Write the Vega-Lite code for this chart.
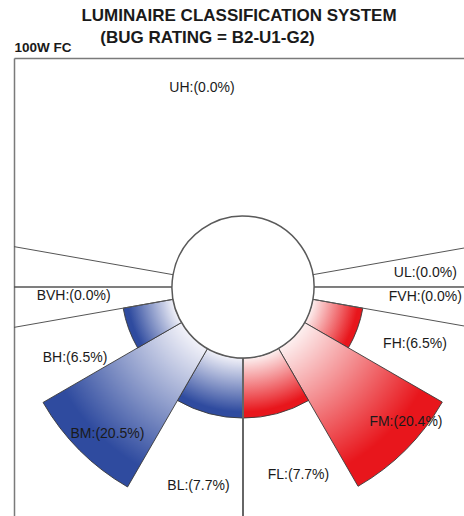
{
  "$schema": "https://vega.github.io/schema/vega-lite/v6.json",
  "width": 450,
  "height": 458,
  "padding": {"left": 14, "top": 58, "right": 0, "bottom": 0},
  "autosize": {"type": "none"},
  "background": "white",
  "config": {"view": {"stroke": null}, "font": "Liberation Sans"},
  "title": {
    "text": "LUMINAIRE CLASSIFICATION SYSTEM",
    "font": "Liberation Sans",
    "fontSize": 17,
    "fontWeight": "bold",
    "color": "#1a1a1a",
    "anchor": "middle",
    "frame": "group",
    "offset": 3
  },
  "data": {
    "values": [
      {"idx": 1, "zone": "UH", "side": "up", "label": "UH:(0.0%)", "span": 160, "pct": 0},
      {"idx": 2, "zone": "UL", "side": "front", "label": "UL:(0.0%)", "span": 10, "pct": 0},
      {"idx": 3, "zone": "FVH", "side": "front", "label": "FVH:(0.0%)", "span": 10, "pct": 0},
      {"idx": 4, "zone": "FH", "side": "front", "label": "FH:(6.5%)", "span": 20, "pct": 6.5},
      {"idx": 5, "zone": "FM", "side": "front", "label": "FM:(20.4%)", "span": 30, "pct": 20.4},
      {"idx": 6, "zone": "FL", "side": "front", "label": "FL:(7.7%)", "span": 30, "pct": 7.7},
      {"idx": 7, "zone": "BL", "side": "back", "label": "BL:(7.7%)", "span": 30, "pct": 7.7},
      {"idx": 8, "zone": "BM", "side": "back", "label": "BM:(20.5%)", "span": 30, "pct": 20.5},
      {"idx": 9, "zone": "BH", "side": "back", "label": "BH:(6.5%)", "span": 20, "pct": 6.5},
      {"idx": 10, "zone": "BVH", "side": "back", "label": "BVH:(0.0%)", "span": 10, "pct": 0},
      {"idx": 11, "zone": "UL", "side": "back", "label": "UL:(0.0%)", "span": 10, "pct": 0}
    ]
  },
  "transform": [
    {"stack": "span", "groupby": [], "sort": [{"field": "idx", "order": "ascending"}], "as": ["t0", "t1"]}
  ],
  "encoding": {
    "x": {
      "datum": 0,
      "type": "quantitative",
      "scale": {"domain": [-229, 221], "nice": false, "zero": false},
      "axis": {
        "orient": "top",
        "domain": true,
        "domainColor": "#7a7a7a",
        "domainWidth": 1.5,
        "ticks": false,
        "labels": false,
        "grid": false,
        "title": "(BUG RATING = B2-U1-G2)",
        "titleFont": "Liberation Sans",
        "titleFontSize": 17,
        "titleFontWeight": "bold",
        "titleColor": "#1a1a1a",
        "titleX": 193,
        "titleY": -16,
        "titleAlign": "center",
        "titleBaseline": "alphabetic"
      }
    },
    "y": {
      "datum": 0,
      "type": "quantitative",
      "scale": {"domain": [-229, 229], "nice": false, "zero": false},
      "axis": {
        "orient": "left",
        "domain": true,
        "domainColor": "#7a7a7a",
        "domainWidth": 1.5,
        "ticks": false,
        "labels": false,
        "grid": false,
        "title": "100W FC",
        "titleFont": "Liberation Sans",
        "titleFontSize": 13.5,
        "titleFontWeight": "bold",
        "titleColor": "#1a1a1a",
        "titleAngle": 0,
        "titleX": 0,
        "titleY": -7,
        "titleAlign": "left",
        "titleBaseline": "alphabetic"
      }
    }
  },
  "layer": [
    {
      "mark": {"type": "arc", "stroke": "#3a3a3a", "strokeWidth": 0.9},
      "encoding": {
        "theta": {"field": "t0", "type": "quantitative", "stack": null, "scale": {"domain": [0, 360], "range": [4.8869, 11.1701]}},
        "theta2": {"field": "t1"},
        "radius": {"field": "pct", "type": "quantitative", "scale": {"type": "linear", "domain": [0, 20], "range": [71, 227], "zero": false}},
        "radius2": {"datum": 0},
        "fill": {
          "condition": [
            {"test": "datum.zone === 'BL'", "value": {"gradient": "radial", "x1": 0.9711, "y1": -0.8841, "r1": 1.0207, "x2": 0.9711, "y2": -0.8841, "r2": 1.884, "stops": [{"offset": 0, "color": "#f2f2f9"}, {"offset": 0.9, "color": "#2f4b9f"}]}},
            {"test": "datum.zone === 'BM'", "value": {"gradient": "radial", "x1": 1.2159, "y1": -0.2159, "r1": 0.4317, "x2": 1.2159, "y2": -0.2159, "r2": 1.404, "stops": [{"offset": 0, "color": "#f2f2f9"}, {"offset": 0.85, "color": "#2f4b9f"}]}},
            {"test": "datum.zone === 'BH'", "value": {"gradient": "radial", "x1": 2.0536, "y1": -0.127, "r1": 1.2166, "x2": 2.0536, "y2": -0.127, "r2": 2.0854, "stops": [{"offset": 0, "color": "#f2f2f9"}, {"offset": 0.9, "color": "#2f4b9f"}]}},
            {"test": "datum.zone === 'FL'", "value": {"gradient": "radial", "x1": 0.0289, "y1": -0.8841, "r1": 1.0207, "x2": 0.0289, "y2": -0.8841, "r2": 1.884, "stops": [{"offset": 0, "color": "#fdf0f0"}, {"offset": 0.9, "color": "#e8161c"}]}},
            {"test": "datum.zone === 'FM'", "value": {"gradient": "radial", "x1": -0.2167, "y1": -0.2167, "r1": 0.4335, "x2": -0.2167, "y2": -0.2167, "r2": 1.405, "stops": [{"offset": 0, "color": "#fdf0f0"}, {"offset": 0.85, "color": "#e8161c"}]}},
            {"test": "datum.zone === 'FH'", "value": {"gradient": "radial", "x1": -1.0536, "y1": -0.127, "r1": 1.2166, "x2": -1.0536, "y2": -0.127, "r2": 2.0854, "stops": [{"offset": 0, "color": "#fdf0f0"}, {"offset": 0.9, "color": "#e8161c"}]}}
          ],
          "value": null
        },
        "strokeOpacity": {"condition": {"test": "datum.pct > 0", "value": 1}, "value": 0}
      }
    },
    {
      "mark": {"type": "arc", "radius": 460, "radius2": 0, "fill": "white", "fillOpacity": 0, "stroke": "#555555", "strokeWidth": 1, "clip": true},
      "encoding": {
        "theta": {"field": "t0", "type": "quantitative", "stack": null},
        "theta2": {"field": "t1"},
        "strokeOpacity": {"condition": {"test": "datum.zone === 'UL' || datum.zone === 'FVH' || datum.zone === 'BVH'", "value": 1}, "value": 0}
      }
    },
    {
      "mark": {"type": "rule", "color": "#666666", "strokeWidth": 1},
      "encoding": {"y2": {"datum": -229}}
    },
    {
      "transform": [{"filter": "datum.idx === 1"}],
      "mark": {"type": "arc", "fill": "white", "fillOpacity": 1, "stroke": "#5a5a5a", "strokeWidth": 1.5},
      "encoding": {
        "theta": {"datum": 0, "type": "quantitative", "stack": null},
        "theta2": {"datum": 360},
        "radius": {"datum": 0, "type": "quantitative"},
        "radius2": {"value": 0}
      }
    },
    {
      "mark": {"type": "text", "radius": 183, "dy": 2, "font": "Liberation Sans", "fontSize": 14, "color": "#1a1a1a"},
      "encoding": {
        "theta": {"field": "span", "type": "quantitative", "stack": true},
        "order": {"field": "idx", "type": "quantitative"},
        "text": {"condition": {"test": "datum.zone === 'UL' && datum.side === 'front'", "field": "label", "type": "nominal"}, "value": ""}
      }
    },
    {
      "mark": {"type": "text", "radius": 183, "dy": -6, "font": "Liberation Sans", "fontSize": 14, "color": "#1a1a1a"},
      "encoding": {
        "theta": {"field": "span", "type": "quantitative", "stack": true},
        "order": {"field": "idx", "type": "quantitative"},
        "text": {"condition": {"test": "datum.zone === 'FVH' || datum.zone === 'FH'", "field": "label", "type": "nominal"}, "value": ""}
      }
    },
    {
      "mark": {"type": "text", "radius": 170, "dy": -6, "font": "Liberation Sans", "fontSize": 14, "color": "#1a1a1a"},
      "encoding": {
        "theta": {"field": "span", "type": "quantitative", "stack": true},
        "order": {"field": "idx", "type": "quantitative"},
        "text": {"condition": {"test": "datum.zone === 'BVH'", "field": "label", "type": "nominal"}, "value": ""}
      }
    },
    {
      "mark": {"type": "text", "radius": 183, "dx": 4, "dy": 8, "font": "Liberation Sans", "fontSize": 14, "color": "#1a1a1a"},
      "encoding": {
        "theta": {"field": "span", "type": "quantitative", "stack": true},
        "order": {"field": "idx", "type": "quantitative"},
        "text": {"condition": {"test": "datum.zone === 'BH'", "field": "label", "type": "nominal"}, "value": ""}
      }
    },
    {
      "mark": {"type": "text", "radius": 203, "dx": 8, "dy": 3, "font": "Liberation Sans", "fontSize": 14, "color": "#1a1a1a"},
      "encoding": {
        "theta": {"field": "span", "type": "quantitative", "stack": true},
        "order": {"field": "idx", "type": "quantitative"},
        "text": {"condition": {"test": "datum.zone === 'BL' || datum.zone === 'BM'", "field": "label", "type": "nominal"}, "value": ""}
      }
    },
    {
      "mark": {"type": "text", "radius": 195, "dx": 5, "font": "Liberation Sans", "fontSize": 14, "color": "#1a1a1a"},
      "encoding": {
        "theta": {"field": "span", "type": "quantitative", "stack": true},
        "order": {"field": "idx", "type": "quantitative"},
        "text": {"condition": {"test": "datum.zone === 'FL'", "field": "label", "type": "nominal"}, "value": ""}
      }
    },
    {
      "mark": {"type": "text", "radius": 205, "dx": 18, "dy": -10, "font": "Liberation Sans", "fontSize": 14, "color": "#1a1a1a"},
      "encoding": {
        "theta": {"field": "span", "type": "quantitative", "stack": true},
        "order": {"field": "idx", "type": "quantitative"},
        "text": {"condition": {"test": "datum.zone === 'FM'", "field": "label", "type": "nominal"}, "value": ""}
      }
    },
    {
      "mark": {"type": "text", "radius": 199, "dx": -41, "font": "Liberation Sans", "fontSize": 14, "color": "#1a1a1a"},
      "encoding": {
        "theta": {"field": "span", "type": "quantitative", "stack": true},
        "order": {"field": "idx", "type": "quantitative"},
        "text": {"condition": {"test": "datum.zone === 'UH'", "field": "label", "type": "nominal"}, "value": ""}
      }
    }
  ]
}
